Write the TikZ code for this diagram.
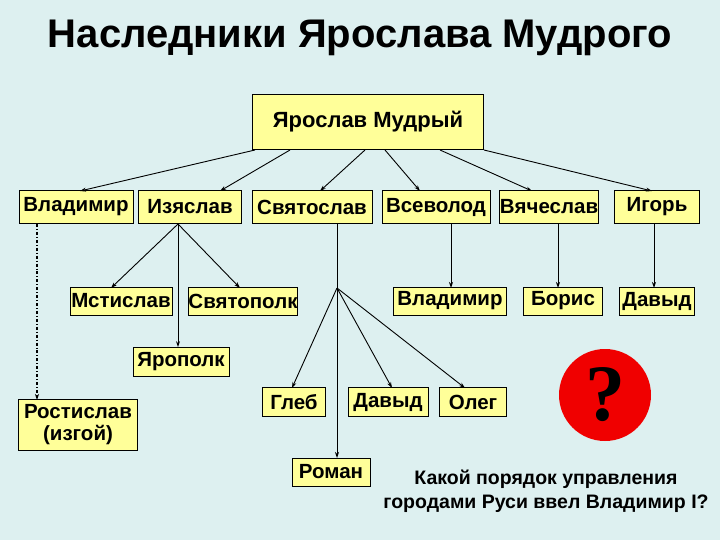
\documentclass[tikz,border=0pt]{standalone}
\usepackage{fontspec}
\setmainfont{Liberation Sans}
\usetikzlibrary{arrows.meta}
\definecolor{bgc}{HTML}{DDF0F0}
\definecolor{boxc}{HTML}{FFFF99}
\definecolor{qred}{HTML}{F00000}
\begin{document}
\begin{tikzpicture}[x=1pt,y=-1pt,
  bx/.style={draw=black,fill=boxc,line width=0.8pt,inner sep=0pt,font=\bfseries\fontsize{20.5}{22}\selectfont,align=center},
  arr/.style={-{Stealth[length=6pt,width=4pt]},line width=0.9pt}]
\fill[bgc] (0,0) rectangle (720,540);
\useasboundingbox (0,0) rectangle (720,540);
\node[font=\bfseries\fontsize{40}{44}\selectfont] (title) at (360,38) {Наследники Ярослава Мудрого};
\node[bx,minimum width=231pt,minimum height=55pt,font=\bfseries\fontsize{22}{24}\selectfont] (Y) at (368,122) {Ярослав Мудрый};
\node[bx,minimum width=114pt,minimum height=33pt] (vl) at (76,207) {Владимир};
\node[bx,minimum width=103pt,minimum height=33pt] (iz) at (190,207) {Изяслав};
\node[bx,minimum width=120pt,minimum height=33pt] (sv) at (312,207) {Святослав};
\node[bx,minimum width=108pt,minimum height=33pt] (vs) at (436,207) {Всеволод};
\node[bx,minimum width=97pt,minimum height=33pt] (vy) at (549,207) {Вячеслав};
\node[bx,minimum width=85pt,minimum height=33pt] (ig) at (657,207) {Игорь};
\node[bx,minimum width=102pt,minimum height=28pt] (ms) at (121,301) {Мстислав};
\node[bx,minimum width=108pt,minimum height=28pt] (sp) at (243,301) {Святополк};
\node[bx,minimum width=113pt,minimum height=28pt] (vl2) at (450,301) {Владимир};
\node[bx,minimum width=79pt,minimum height=28pt] (bo) at (563,301) {Борис};
\node[bx,minimum width=75pt,minimum height=28pt] (da) at (657,301) {Давыд};
\node[bx,minimum width=96pt,minimum height=29pt] (ya) at (181,362) {Ярополк};
\node[bx,minimum width=119pt,minimum height=51pt] (ro) at (78,425) {Ростислав\\(изгой)};
\node[bx,minimum width=63pt,minimum height=29pt] (gl) at (294,402) {Глеб};
\node[bx,minimum width=80pt,minimum height=29pt] (da2) at (388,402) {Давыд};
\node[bx,minimum width=67pt,minimum height=29pt] (ol) at (473,402) {Олег};
\node[bx,minimum width=78pt,minimum height=28pt] (rm) at (331,472) {Роман};
\node[circle,fill=qred,minimum size=92pt,inner sep=0pt,font=\fontsize{80}{80}\selectfont\fontspec{Liberation Serif}\bfseries] (q) at (605,395) {?};
\node[font=\bfseries\fontsize{19.5}{24}\selectfont,align=center] (txt) at (546,491) {Какой порядок управления\\городами Руси ввел Владимир I?};
% top level
\coordinate (y1) at (255,150); \coordinate (y2) at (290,150); \coordinate (y3) at (365,150);
\coordinate (y4) at (385,150); \coordinate (y5) at (440,150); \coordinate (y6) at (484,150);
\draw[arr] (y1) -- (80,191);
\draw[arr] (y2) -- (220,191);
\draw[arr] (y3) -- (320,191);
\draw[arr] (y4) -- (420,191);
\draw[arr] (y5) -- (532,191);
\draw[arr] (y6) -- (652,191);
% Izyaslav
\coordinate (izb) at (178,224);
\draw[arr] (izb) -- (111,288);
\draw[arr] (izb) -- (240,288);
\draw[arr] (izb) -- (ya.north -| izb);
% Vladimir dash-dot
\draw[arr,dash dot,line width=1.2pt] (37,224) -- (37,400);
% Svyatoslav
\coordinate (sj) at (337,288);
\draw[line width=0.9pt] (337,224) -- (sj);
\draw[arr] (sj) -- (292,388);
\draw[arr] (sj) -- (392,388);
\draw[arr] (sj) -- (465,388);
\draw[arr] (sj) -- (337,458);
% verticals
\draw[arr] (451,224) -- (451,288);
\draw[arr] (558,224) -- (558,288);
\draw[arr] (654,224) -- (654,288);
\end{tikzpicture}
\end{document}
